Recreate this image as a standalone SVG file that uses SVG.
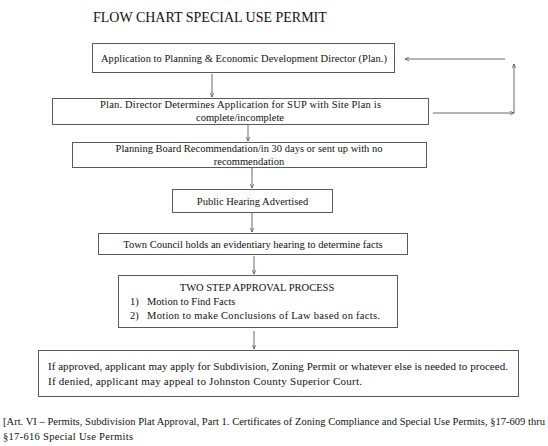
<svg xmlns="http://www.w3.org/2000/svg" width="548" height="446" viewBox="0 0 548 446">
<defs>
<marker id="ah" viewBox="0 0 8 8" refX="7.5" refY="4" markerWidth="5" markerHeight="5" orient="auto" markerUnits="userSpaceOnUse">
<path d="M1,1 L7.5,4 L1,7" fill="none" stroke="#444" stroke-width="1"/>
</marker>
<style>
.box{fill:#fff;stroke:#5a5a5a;stroke-width:1}
.t{font-family:"Liberation Serif","Times New Roman",serif;font-size:10.5px;fill:#111}
.c{text-anchor:middle}
.big{font-size:11px}
.ttl{font-family:"Liberation Serif","Times New Roman",serif;font-size:14px;fill:#111}
.con line{stroke:#444;stroke-width:0.8;marker-end:url(#ah)}
</style>
</defs>
<rect width="548" height="446" fill="#fff"/>
<text class="ttl" x="93" y="22">FLOW CHART  SPECIAL  USE PERMIT</text>

<g id="n1">
<rect class="box" x="92.5" y="43.5" width="302" height="29"/>
<text class="t" x="101" y="62" textLength="286" lengthAdjust="spacing">Application to Planning &amp; Economic Development Director (Plan.)</text>
</g>
<g id="n2">
<rect class="box" x="52.5" y="98.5" width="376" height="26"/>
<text class="t" x="100" y="108" textLength="281" lengthAdjust="spacing">Plan. Director Determines Application   for SUP with Site Plan is</text>
<text class="t c" x="240" y="121">complete/incomplete</text>
</g>
<g id="n3">
<rect class="box" x="72.5" y="142.5" width="354" height="25"/>
<text class="t c" x="249" y="152">Planning Board Recommendation/in  30 days  or sent up with no</text>
<text class="t c" x="249" y="165">recommendation</text>
</g>
<g id="n4">
<rect class="box" x="172.5" y="189.5" width="160" height="23"/>
<text class="t c" x="252.5" y="204.5">Public Hearing Advertised</text>
</g>
<g id="n5">
<rect class="box" x="98.5" y="233.5" width="309" height="21"/>
<text class="t c" x="253" y="247.5">Town Council holds an evidentiary  hearing  to determine  facts</text>
</g>
<g id="n6">
<rect class="box" x="118.5" y="275.5" width="279" height="52"/>
<text class="t c" x="257" y="291">TWO STEP APPROVAL  PROCESS</text>
<text class="t" x="130" y="305">1)</text>
<text class="t" x="147" y="305">Motion to Find Facts</text>
<text class="t" x="130" y="318.5">2)</text>
<text class="t" x="147" y="318.5" textLength="233" lengthAdjust="spacing">Motion to make Conclusions of Law based on facts.</text>
</g>
<g id="n7">
<rect class="box" x="38.5" y="350.5" width="480" height="46"/>
<text class="t big" x="48" y="370" textLength="460" lengthAdjust="spacing">If approved, applicant may apply for Subdivision, Zoning Permit or whatever else is needed to proceed.</text>
<text class="t big" x="48" y="384.5" textLength="314" lengthAdjust="spacing">If denied, applicant may appeal to Johnston County Superior Court.</text>
</g>

<text class="t" x="3" y="425" textLength="542" lengthAdjust="spacing">[Art. VI – Permits, Subdivision Plat Approval, Part 1. Certificates of Zoning Compliance and Special Use Permits, §17-609 thru</text>
<text class="t" x="3" y="440" textLength="130" lengthAdjust="spacing">§17-616 Special Use Permits</text>

<g id="connectors" class="con">
<line x1="212" y1="74" x2="212" y2="97"/>
<line x1="248" y1="125" x2="248" y2="141"/>
<line x1="252" y1="168" x2="252" y2="188"/>
<line x1="252" y1="213" x2="252" y2="232"/>
<line x1="254" y1="256" x2="254" y2="274"/>
<line x1="254" y1="331" x2="254" y2="349"/>
<line x1="433" y1="113" x2="514" y2="113"/>
<line x1="514" y1="113" x2="514" y2="64"/>
<line x1="505" y1="59" x2="405" y2="59"/>
</g>
</svg>
